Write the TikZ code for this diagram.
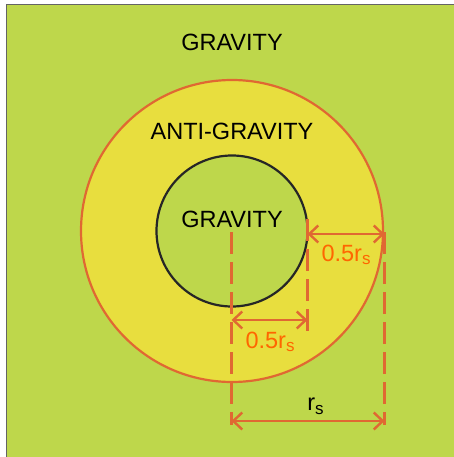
\documentclass[tikz,border=0pt]{standalone}
\usepackage{fontspec}
\setmainfont{Liberation Sans}
\usetikzlibrary{arrows.meta}
\definecolor{bggreen}{RGB}{190,215,75}
\definecolor{ringyellow}{RGB}{232,222,62}
\definecolor{lineorange}{RGB}{224,104,50}
\definecolor{textorange}{RGB}{255,102,0}
\definecolor{bordergray}{RGB}{100,100,100}
\newcommand{\sub}[1]{{\fontsize{17}{17}\selectfont\raisebox{-3.5pt}{#1}}}
\tikzset{
  lbl/.style={inner sep=0pt, anchor=base, font=\fontsize{23.5}{27}\selectfont},
  dimline/.style={draw=lineorange, line width=2.6pt, dash pattern=on 22pt off 8pt},
  dimarrow/.style={draw=lineorange, line width=2.6pt,
    {Straight Barb[length=9pt,width=17pt,line width=2.4pt]}-{Straight Barb[length=9pt,width=17pt,line width=2.4pt]}}
}
\begin{document}
\begin{tikzpicture}[x=1pt,y=-1pt]
\useasboundingbox (0,0) rectangle (454,457);
\fill[white] (0,0) rectangle (454,457);
\fill[bggreen] (7,5) rectangle (454,457);
\draw[bordergray, line width=1.5pt] (6.5,457) -- (6.5,4.5) -- (454,4.5);
% circles
\coordinate (c) at (232,231);
\fill[ringyellow] (c) circle[radius=151];
\draw[lineorange, line width=2.2pt] (c) circle[radius=151];
\fill[bggreen] (c) circle[radius=75.5];
\draw[black!85, line width=2.2pt] (c) circle[radius=75.5];
% texts
\node[lbl] (g1) at (232,50.7) {GRAVITY};
\node[lbl] (ag) at (232,139.3) {ANTI-GRAVITY};
\node[lbl] (g2) at (232,227.7) {GRAVITY};
% dashed guide lines
\coordinate (ct) at (231.5,232);
\coordinate (cb) at (231.5,425);
\coordinate (it) at (307.5,219);
\coordinate (ib) at (307.5,338);
\coordinate (ot) at (384.5,232);
\coordinate (ob) at (384.5,425);
\draw[dimline] (ct) -- (cb);
\draw[dimline] (it) -- (ib);
\draw[dimline] (ot) -- (ob);
% arrows
\coordinate (a1l) at (307.5,234);
\coordinate (a1r) at (384.5,234);
\coordinate (a2l) at (231.5,320);
\coordinate (a2r) at (307.5,320);
\coordinate (a3l) at (231.5,421);
\coordinate (a3r) at (384.5,421);
\draw[dimarrow] (a1l) -- (a1r);
\draw[dimarrow] (a2l) -- (a2r);
\draw[dimarrow] (a3l) -- (a3r);
% labels
\node[lbl, text=textorange] (l1) at (346,261) {0.5r\sub{s}};
\node[lbl, text=textorange] (l2) at (270,348.3) {0.5r\sub{s}};
\node[lbl] (l3) at (315.5,410.7) {r\sub{s}};
\end{tikzpicture}
\end{document}
